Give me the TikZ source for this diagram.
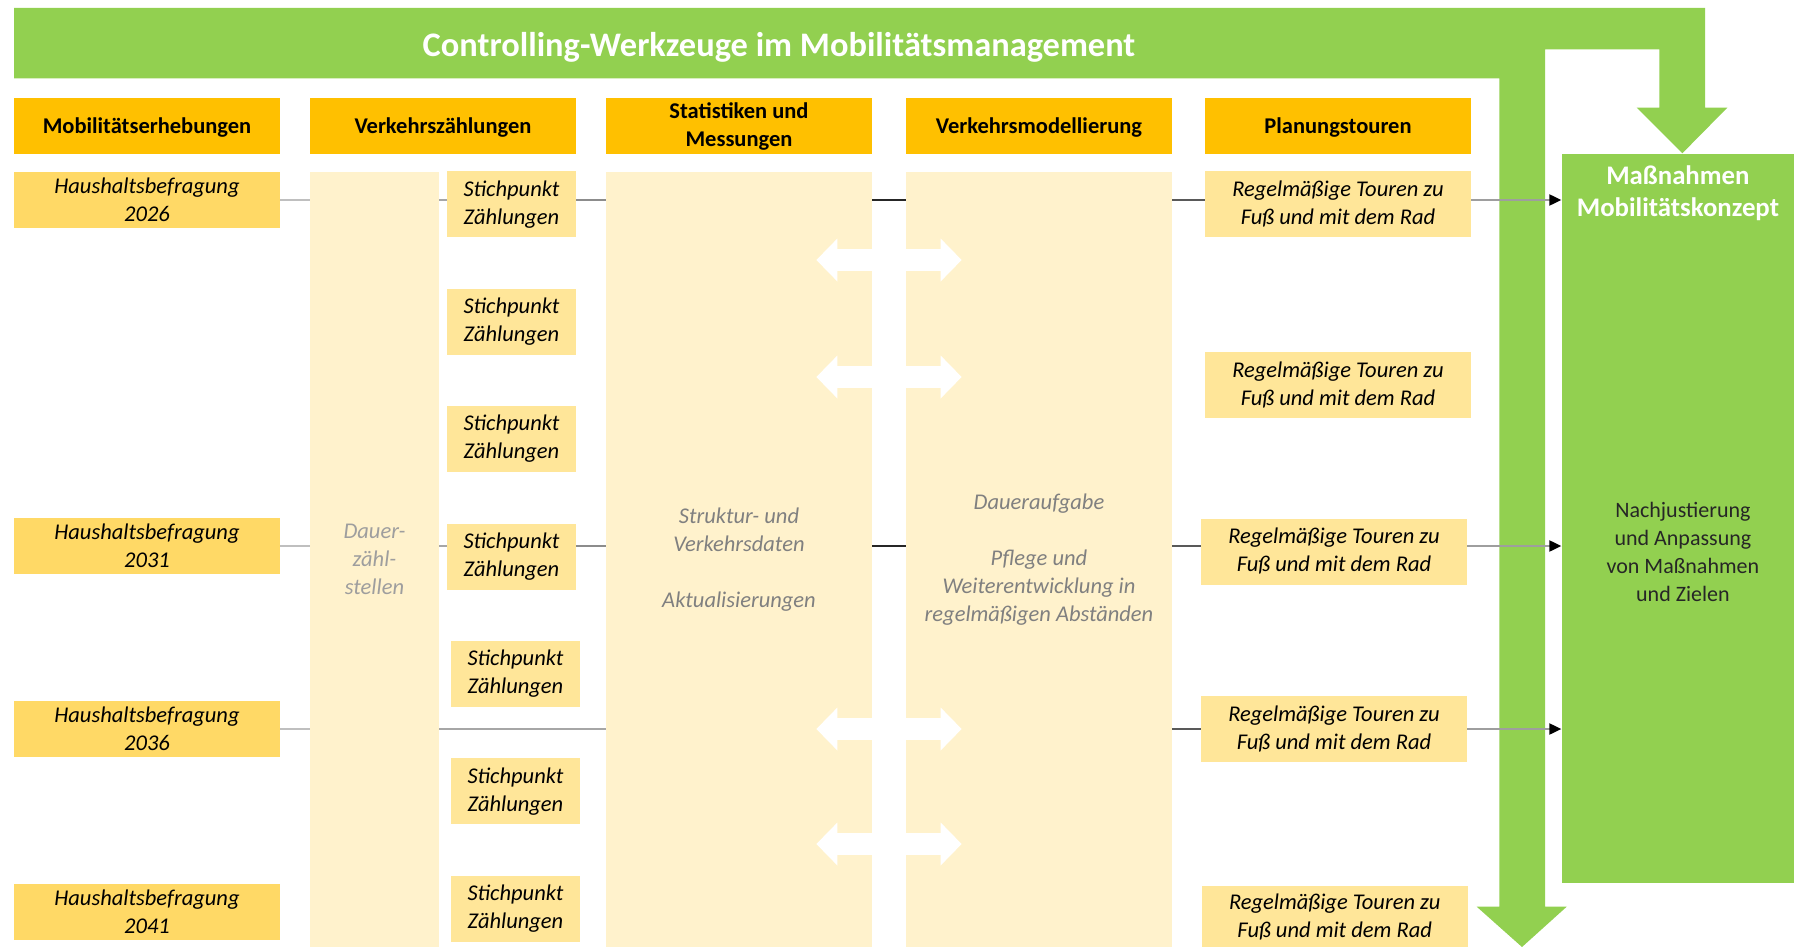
\documentclass[tikz,border=0pt]{standalone}
\usepackage{fontspec}
\setmainfont{Carlito}
\usepackage{tikz}
\usetikzlibrary{arrows.meta, calc, positioning}
\usepackage{xcolor}
\definecolor{mmgreen}{HTML}{92D050}
\definecolor{mmorange}{HTML}{FFC000}
\definecolor{mmgold}{HTML}{FFD966}
\definecolor{mmsand}{HTML}{FFE699}
\definecolor{mmcream}{HTML}{FFF2CC}
\newcommand{\mmfont}{\fontsize{11.25}{14}\selectfont}

\begin{document}
\begin{tikzpicture}[x=0.5pt, y=-0.5pt,
  box/.style={inner sep=0pt, align=center},
  hdr/.style={box, fill=mmorange, minimum width=133pt, minimum height=28pt, font=\mmfont\bfseries},
  survey/.style={box, fill=mmgold, minimum width=133pt, minimum height=28pt, font=\mmfont\itshape},
  spot/.style={box, fill=mmsand, minimum width=64.5pt, minimum height=33pt, font=\mmfont\itshape},
  tour/.style={box, fill=mmsand, minimum width=133pt, minimum height=33pt, font=\mmfont\itshape},
  lane/.style={box, fill=mmcream, minimum height=387.65pt, font=\mmfont\itshape, text=black!50},
  conn/.style={line width=1pt, draw=black!45},
  toarrow/.style={conn, draw=black!38, -{Triangle[length=6pt, width=5.5pt, color=black]}},
  swap/.style={draw=white, line width=11pt,
    {Triangle[length=10.5pt, width=21.5pt, line width=0pt, fill=white]}-{Triangle[length=10.5pt, width=21.5pt, line width=0pt, fill=white]}}
]
  \useasboundingbox (0,0) rectangle (1794,947);

  % green frame with the two arrows
  \fill[mmgreen] (14,8) -- (1705,8) -- (1705,107.7) -- (1727.3,107.7) -- (1682.3,153.3)
    -- (1636.7,107.7) -- (1659.3,107.7) -- (1659.3,49.3) -- (1545,49.3) -- (1545,906.7)
    -- (1566.7,906.7) -- (1522,947) -- (1476.7,906.7) -- (1499.3,906.7) -- (1499.3,78.3)
    -- (14,78.3) -- cycle;
  \node[text=white, font=\fontsize{17.2}{20}\selectfont\bfseries] (ttl) at (779,47) {Controlling-Werkzeuge im Mobilitätsmanagement};

  % column heads
  \node[hdr, text depth=0.6pt] (hA) at (147,126) {Mobilitätserhebungen};
  \node[hdr, text depth=0.6pt] (hB) at (443,126) {Verkehrszählungen};
  \node[hdr] (hC) at (739,126) {Statistiken und\\Messungen};
  \node[hdr, text depth=0.6pt] (hD) at (1039,126) {Verkehrsmodellierung};
  \node[hdr, text depth=0.6pt] (hE) at (1338,126) {Planungstouren};

  % long lanes
  \node[lane, minimum width=64.5pt, text=black!38] (dauer) at (374.5,559.4) {Dauer-\\zähl-\\stellen};
  \node[lane, minimum width=133pt] (stat) at (739,559.4) {Struktur- und\\Verkehrsdaten\\[14pt]Aktualisierungen};
  \node[lane, minimum width=133pt] (model) at (1039,559.4) {Daueraufgabe\\[14pt]Pflege und\\Weiterentwicklung in\\regelmäßigen Abständen};

  % household surveys
  \node[survey] (s26) at (147,200) {Haushaltsbefragung\\2026};
  \node[survey] (s31) at (147,546) {Haushaltsbefragung\\2031};
  \node[survey] (s36) at (147,729) {Haushaltsbefragung\\2036};
  \node[survey] (s41) at (147,912) {Haushaltsbefragung\\2041};

  % spot counts
  \node[spot] (p1) at (511.5,204.2) {Stichpunkt\\Zählungen};
  \node[spot] (p2) at (511.5,321.6) {Stichpunkt\\Zählungen};
  \node[spot] (p3) at (511.5,439.1) {Stichpunkt\\Zählungen};
  \node[spot] (p4) at (511.5,556.5) {Stichpunkt\\Zählungen};
  \node[spot] (p5) at (515.5,674) {Stichpunkt\\Zählungen};
  \node[spot] (p6) at (515.5,791.4) {Stichpunkt\\Zählungen};
  \node[spot] (p7) at (515.5,908.9) {Stichpunkt\\Zählungen};

  % tours
  \node[tour] (t1) at (1338,204.2) {Regelmäßige Touren zu\\Fuß und mit dem Rad};
  \node[tour] (t2) at (1338,385) {Regelmäßige Touren zu\\Fuß und mit dem Rad};
  \node[tour] (t3) at (1334,551.5) {Regelmäßige Touren zu\\Fuß und mit dem Rad};
  \node[tour] (t4) at (1334,729) {Regelmäßige Touren zu\\Fuß und mit dem Rad};
  \node[tour, minimum height=30.5pt] (t5) at (1334.7,916.5) {Regelmäßige Touren zu\\Fuß und mit dem Rad};

  % measures box
  \node[box, fill=mmgreen, minimum width=116.15pt, minimum height=364.65pt] (mk) at (1677.9,518.7) {};
  \node[box, text=white, font=\fontsize{13.4}{16}\selectfont\bfseries, below=6pt of mk.north] (mkhead) {Maßnahmen\\Mobilitätskonzept};
  \node[box, text=black!85, font=\fontsize{11}{14}\selectfont, xshift=2.5pt] (mkbody) at (mk |- t3) {Nachjustierung\\und Anpassung\\von Maßnahmen\\und Zielen};

  % row 2026
  \draw[conn, draw=black!25] (s26.east) -- (s26.east -| dauer.west);
  \draw[conn, draw=black!35] (s26.east -| dauer.east) -- (s26.east -| p1.west);
  \draw[conn] (s26.east -| p1.east) -- (s26.east -| stat.west);
  \draw[conn, draw=black!85] (s26.east -| stat.east) -- (s26.east -| model.west);
  \draw[conn, draw=black!65] (s26.east -| model.east) -- (s26.east -| t1.west);
  \draw[toarrow] (s26.east -| t1.east) -- (s26.east -| mk.west);
  % row 2031
  \draw[conn, draw=black!25] (s31.east) -- (s31.east -| dauer.west);
  \draw[conn, draw=black!35] (s31.east -| dauer.east) -- (s31.east -| p4.west);
  \draw[conn] (s31.east -| p4.east) -- (s31.east -| stat.west);
  \draw[conn, draw=black!85] (s31.east -| stat.east) -- (s31.east -| model.west);
  \draw[conn, draw=black!65] (s31.east -| model.east) -- (s31.east -| t3.west);
  \draw[toarrow] (s31.east -| t3.east) -- (s31.east -| mk.west);
  % row 2036
  \draw[conn, draw=black!25] (s36.east) -- (s36.east -| dauer.west);
  \draw[conn, draw=black!35] (s36.east -| dauer.east) -- (s36.east -| stat.west);
  \draw[conn, draw=black!85] (s36.east -| stat.east) -- (s36.east -| model.west);
  \draw[conn, draw=black!65] (s36.east -| model.east) -- (s36.east -| t4.west);
  \draw[toarrow] (s36.east -| t4.east) -- (s36.east -| mk.west);

  % exchange arrows between statistics and model
  \draw[swap] ($(stat.east |- 0,260)+(-56,0)$) -- ($(model.west |- 0,260)+(56,0)$);
  \draw[swap] ($(stat.east |- 0,377)+(-56,0)$) -- ($(model.west |- 0,377)+(56,0)$);
  \draw[swap] ($(stat.east |- s36.east)+(-56,0)$) -- ($(model.west |- s36.east)+(56,0)$);
  \draw[swap] ($(stat.east |- 0,844)+(-56,0)$) -- ($(model.west |- 0,844)+(56,0)$);
\end{tikzpicture}
\end{document}
